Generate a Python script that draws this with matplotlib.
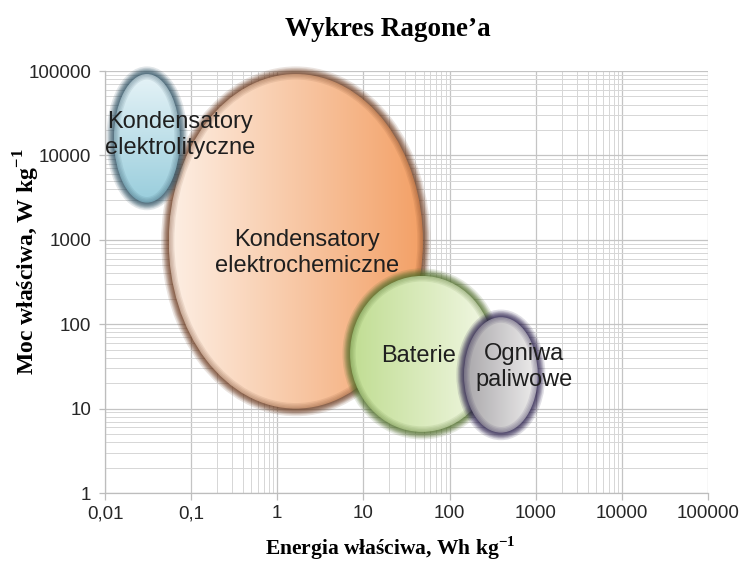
# Wykres Ragone'a - odtworzenie wykresu (log-log, elipsy obszarów)

import numpy as np
import matplotlib
matplotlib.use('Agg')
import matplotlib.pyplot as plt
from matplotlib.patches import Ellipse
from matplotlib.ticker import FixedLocator, NullFormatter
from matplotlib.colors import to_rgb

plt.rcParams['font.family'] = ['Liberation Sans', 'DejaVu Sans']
plt.rcParams['mathtext.fontset'] = 'custom'
plt.rcParams['mathtext.rm'] = 'Liberation Serif:bold'
plt.rcParams['mathtext.bf'] = 'Liberation Serif:bold'

# === Data ===
regions = ['Kondensatory\nelektrolityczne', 'Kondensatory\nelektrochemiczne',
           'Baterie', 'Ogniwa\npaliwowe']
energy_min = [0.0127, 0.055, 7.0, 147]      # Wh/kg
energy_max = [0.074, 49, 327, 1055]
power_min = [2760, 10, 5.3, 5.2]            # W/kg
power_max = [92000, 92000, 373, 121]

label_energy = [0.075, 2.2, 44, 730]
label_power = [17300, 700, 41.6, 30.8]

x_ticks = [0.01, 0.1, 1, 10, 100, 1000, 10000, 100000]
x_tick_labels = ['0,01', '0,1', '1', '10', '100', '1000', '10000', '100000']
y_ticks = [1, 10, 100, 1000, 10000, 100000]
y_tick_labels = ['1', '10', '100', '1000', '10000', '100000']

# === Styles ===
draw_order = [1, 0, 2, 3]
color_a = ['#e6f3f7', '#fdefe4', '#c0dd92', '#a9a7aa']
color_b = ['#98cddc', '#f3a066', '#f3f8e6', '#eeeded']
vertical_grad = [True, False, False, False]
shadow_colors = ['#2f5264', '#6e3c20', '#52702c', '#2a1f4c']

# === Figure ===
fig = plt.figure(figsize=(7.42, 5.62), dpi=100)
W, H = 742, 562
L, R, T, B = 105, 708, 71, 493
rect = [L / W, 1 - B / H, (R - L) / W, (B - T) / H]

ax = fig.add_axes(rect)
ax.set_xscale('log')
ax.set_yscale('log')
ax.set_xlim(x_ticks[0], x_ticks[-1])
ax.set_ylim(y_ticks[0], y_ticks[-1])

ax.xaxis.set_major_locator(FixedLocator(x_ticks))
ax.set_xticklabels(x_tick_labels)
ax.yaxis.set_major_locator(FixedLocator(y_ticks))
ax.set_yticklabels(y_tick_labels)

# minor grid: x only in every other decade, y in all decades
x_minor = [k * d for d in (0.1, 10, 1000) for k in range(2, 10)]
y_minor = [k * d for d in (1, 10, 100, 1000, 10000) for k in range(2, 10)]
ax.xaxis.set_minor_locator(FixedLocator(x_minor))
ax.yaxis.set_minor_locator(FixedLocator(y_minor))
ax.xaxis.set_minor_formatter(NullFormatter())
ax.yaxis.set_minor_formatter(NullFormatter())

ax.grid(True, which='major', color='#c4c4c4', linewidth=0.9)
ax.grid(True, which='minor', color='#d6d6d6', linewidth=0.7)
ax.tick_params(which='minor', length=0)
ax.tick_params(axis='x', which='major', length=5, width=0.9, color='#bdbdbd',
               labelsize=13.5, pad=4, labelcolor='#262626')
ax.tick_params(axis='y', which='major', length=4, width=0.9, color='#bdbdbd',
               labelsize=13.5, pad=6, labelcolor='#262626')
for side in ['top', 'right']:
    ax.spines[side].set_visible(False)
for side in ['left', 'bottom']:
    ax.spines[side].set_color('#bdbdbd')
    ax.spines[side].set_linewidth(0.9)

# overlay in decade units for the ellipses
ov = fig.add_axes(rect)
ov.axis('off')
ov.patch.set_alpha(0)

n = 256
for z, i in enumerate(draw_order):
    x0, x1 = np.log10(energy_min[i]), np.log10(energy_max[i])
    y0, y1 = np.log10(power_min[i]), np.log10(power_max[i])
    cx, cy = (x0 + x1) / 2, (y0 + y1) / 2
    w, h = x1 - x0, y1 - y0
    zb = 2 + z * 3

    ca, cb = np.array(to_rgb(color_a[i])), np.array(to_rgb(color_b[i]))
    t = np.linspace(0, 1, n)
    grad = ca[None, :] * (1 - t[:, None]) + cb[None, :] * t[:, None]
    if vertical_grad[i]:
        img = grad[:, None, :]        # top -> bottom
    else:
        img = grad[None, :, :]        # left -> right

    clip = Ellipse((cx, cy), w, h, transform=ov.transData, facecolor='none',
                   edgecolor='none')
    ov.add_patch(clip)
    # soft outer glow
    for lw in [11, 9, 7, 5.5, 4, 2.5, 1.2]:
        ov.add_patch(Ellipse((cx, cy), w, h, facecolor='none',
                             edgecolor=shadow_colors[i], lw=lw, alpha=0.14,
                             zorder=zb, clip_on=False))
    im = ov.imshow(img, extent=[x0, x1, y0, y1], origin='upper',
                   aspect='auto', interpolation='bilinear', zorder=zb + 1)
    im.set_clip_path(clip)
    # inner rim
    for lw in [8, 6, 4, 2]:
        ov.add_patch(Ellipse((cx, cy), w, h, facecolor='none',
                             edgecolor=shadow_colors[i], lw=lw, alpha=0.1,
                             zorder=zb + 2, clip_on=False))

ov.set_xlim(np.log10(x_ticks[0]), np.log10(x_ticks[-1]))
ov.set_ylim(np.log10(y_ticks[0]), np.log10(y_ticks[-1]))

for i, name in enumerate(regions):
    ov.text(np.log10(label_energy[i]), np.log10(label_power[i]), name,
            ha='center', va='center', multialignment='center',
            fontsize=17, color='#1f1f1f', linespacing=1.25, zorder=30)

# === Titles ===
fig.text(388 / W, 1 - 29 / H, 'Wykres Ragone\u2019a', ha='center', va='center',
         family='Liberation Serif', fontweight='bold', fontsize=19.5)
fig.text(390 / W, 1 - 548 / H, 'Energia właściwa, Wh kg$^{-1}$', ha='center',
         va='center', family='Liberation Serif', fontweight='bold', fontsize=15.5)
fig.text(27 / W, 1 - 262 / H, 'Moc właściwa, W kg$^{-1}$', ha='center',
         va='center', rotation=90, family='Liberation Serif',
         fontweight='bold', fontsize=17)

fig.savefig('out.png', dpi=100, facecolor='white')
